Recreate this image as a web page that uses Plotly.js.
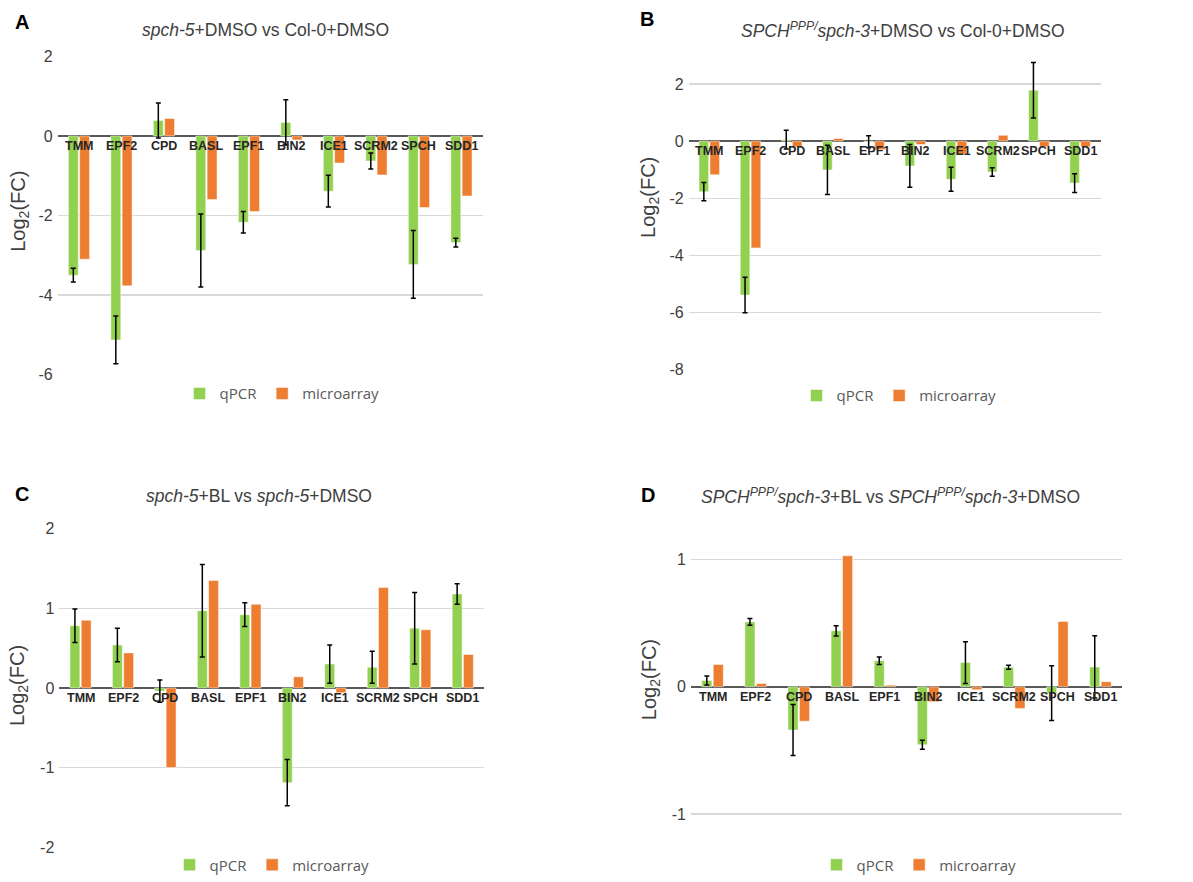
<!DOCTYPE html>
<html><head><meta charset="utf-8">
<script src="https://cdn.plot.ly/plotly-3.0.1.min.js"></script>
<style>body{margin:0;background:#fff}#c{width:1193px;height:882px}</style>
</head><body><div id="c"></div>
<script>
const genes = ['TMM','EPF2','CPD','BASL','EPF1','BIN2','ICE1','SCRM2','SPCH','SDD1'];

const qpcrA  = [-3.50, -5.13, 0.39, -2.88, -2.17, 0.34, -1.39, -0.63, -3.23, -2.68];
const errA   = [0.17, 0.60, 0.44, 0.92, 0.27, 0.57, 0.40, 0.20, 0.85, 0.11];
const microA = [-3.10, -3.77, 0.44, -1.60, -1.90, -0.10, -0.68, -0.98, -1.80, -1.51];

const qpcrB  = [-1.77, -5.39, 0.05, -1.01, -0.02, -0.87, -1.34, -1.08, 1.78, -1.47];
const errB   = [0.32, 0.62, 0.33, 0.86, 0.21, 0.75, 0.42, 0.15, 0.97, 0.33];
const microB = [-1.18, -3.74, -0.20, 0.09, -0.30, -0.12, -0.45, 0.20, -0.20, -0.20];

const qpcrC  = [0.78, 0.54, -0.04, 0.97, 0.92, -1.19, 0.30, 0.26, 0.75, 1.18];
const errC   = [0.21, 0.21, 0.14, 0.58, 0.15, 0.29, 0.24, 0.20, 0.45, 0.13];
const microC = [0.85, 0.44, -1.00, 1.35, 1.05, 0.14, -0.06, 1.26, 0.73, 0.42];

const qpcrD  = [0.05, 0.51, -0.34, 0.44, 0.205, -0.456, 0.19, 0.154, -0.05, 0.156];
const errD   = [0.035, 0.026, 0.20, 0.04, 0.03, 0.035, 0.165, 0.016, 0.216, 0.245];
const microD = [0.175, 0.026, -0.27, 1.03, 0.013, -0.117, -0.023, -0.17, 0.513, 0.04];

const titles = [
  '<i>spch-5</i>+DMSO vs Col-0+DMSO',
  '<i>SPCH<sup>PPP/</sup>spch-3</i>+DMSO vs Col-0+DMSO',
  '<i>spch-5</i>+BL vs <i>spch-5</i>+DMSO',
  '<i>SPCH<sup>PPP/</sup>spch-3</i>+BL vs <i>SPCH<sup>PPP/</sup>spch-3</i>+DMSO'
];
const letters = ['A','B','C','D'];

const W = 1193, H = 882;
const GREEN = '#92D050', ORANGE = '#ED7D31';
const FONT = 'Liberation Sans, Arial, sans-serif';

const panels = [
  {x0:57.7, x1:482.7, yTop:56.7, yBot:376.7, range:[-6,2], ticks:[-6,-4,-2,0,2],
   title:[265,30], letter:[22,22], ytitle:[20,213], legend:[282,396], q:qpcrA, e:errA, m:microA},
  {x0:688.7, x1:1100.7, yTop:55.7, yBot:371.7, range:[-8,3], ticks:[-8,-6,-4,-2,0,2],
   title:[903,30], letter:[647,19], ytitle:[650,198], legend:[899,398], q:qpcrB, e:errB, m:microB},
  {x0:59.3, x1:484, yTop:531.7, yBot:852, range:[-2,2], ticks:[-2,-1,0,1,2],
   title:[259,499], letter:[22,497], ytitle:[18,690], legend:[272,870], q:qpcrC, e:errC, m:microC},
  {x0:691, x1:1122, yTop:537.2, yBot:857, range:[-1.3,1.2], ticks:[-1,0,1],
   title:[890,499], letter:[648,498], ytitle:[650,683], legend:[919,870], q:qpcrD, e:errD, m:microD}
];

const data = [];
const layout = {
  width: W, height: H, margin:{l:0,r:0,t:0,b:0},
  paper_bgcolor:'#fff', plot_bgcolor:'rgba(0,0,0,0)',
  barmode:'group', bargap:0.47, bargroupgap:0.12,
  font:{family:FONT, color:'#404040'},
  annotations:[]
};

panels.forEach((p,i)=>{
  const n = i===0 ? '' : String(i+1);
  const xa = 'x'+n, ya = 'y'+n;
  const lg = 'legend'+n;
  data.push({type:'bar', x:genes, y:p.q, name:'qPCR', xaxis:xa, yaxis:ya, legend:lg,
    marker:{color:GREEN, line:{color:'rgba(255,255,255,0.6)', width:0.8}},
    error_y:{type:'data', array:p.e, visible:true, color:'#000', thickness:1.5, width:2.5}});
  data.push({type:'bar', x:genes, y:p.m, name:'microarray', xaxis:xa, yaxis:ya, legend:lg,
    marker:{color:ORANGE, line:{color:'rgba(255,255,255,0.6)', width:0.8}}});
  layout['xaxis'+n] = {domain:[p.x0/W, p.x1/W], anchor:ya, showticklabels:false, showgrid:false,
    zeroline:false, showline:false, ticks:'', fixedrange:true};
  layout['yaxis'+n] = {domain:[1-p.yBot/H, 1-p.yTop/H], anchor:xa, range:p.range,
    tickmode:'array', tickvals:p.ticks, ticktext:p.ticks.map(String),
    showgrid:true, gridcolor:'#d9d9d9', gridwidth:1.3,
    zeroline:true, zerolinecolor:'#595959', zerolinewidth:2,
    showline:false, ticks:'', ticklabelstandoff:4,
    tickfont:{size:16, color:'#404040', family:FONT}};
  layout[lg] = {orientation:'h', x:p.legend[0]/W, y:1-p.legend[1]/H, xanchor:'center', yanchor:'middle',
    font:{size:15, color:'#595959', family:'Open Sans, '+FONT}, itemwidth:30, bgcolor:'rgba(0,0,0,0)',
    tracegroupgap:0};
  layout.annotations.push({text:titles[i], xref:'paper', yref:'paper', x:p.title[0]/W, y:1-p.title[1]/H,
    xanchor:'center', yanchor:'middle', showarrow:false, font:{size:17.5, color:'#404040', family:FONT}});
  layout.annotations.push({text:'<b>'+letters[i]+'</b>', xref:'paper', yref:'paper', x:p.letter[0]/W, y:1-p.letter[1]/H,
    xanchor:'center', yanchor:'middle', showarrow:false, font:{size:20, color:'#000', family:FONT}});
  layout.annotations.push({text:'Log<sub>2</sub>(FC)', xref:'paper', yref:'paper', x:p.ytitle[0]/W, y:1-p.ytitle[1]/H,
    xanchor:'center', yanchor:'middle', textangle:-90, showarrow:false, font:{size:20, color:'#404040', family:FONT}});
  genes.forEach(g=>{
    layout.annotations.push({text:'<b>'+g+'</b>', xref:xa, yref:ya, x:g, y:0, yanchor:'top', yshift:-1,
      showarrow:false, font:{size:12.5, color:'#262626', family:FONT}});
  });
});

Plotly.newPlot('c', data, layout, {displayModeBar:false, staticPlot:true});
</script></body></html>
